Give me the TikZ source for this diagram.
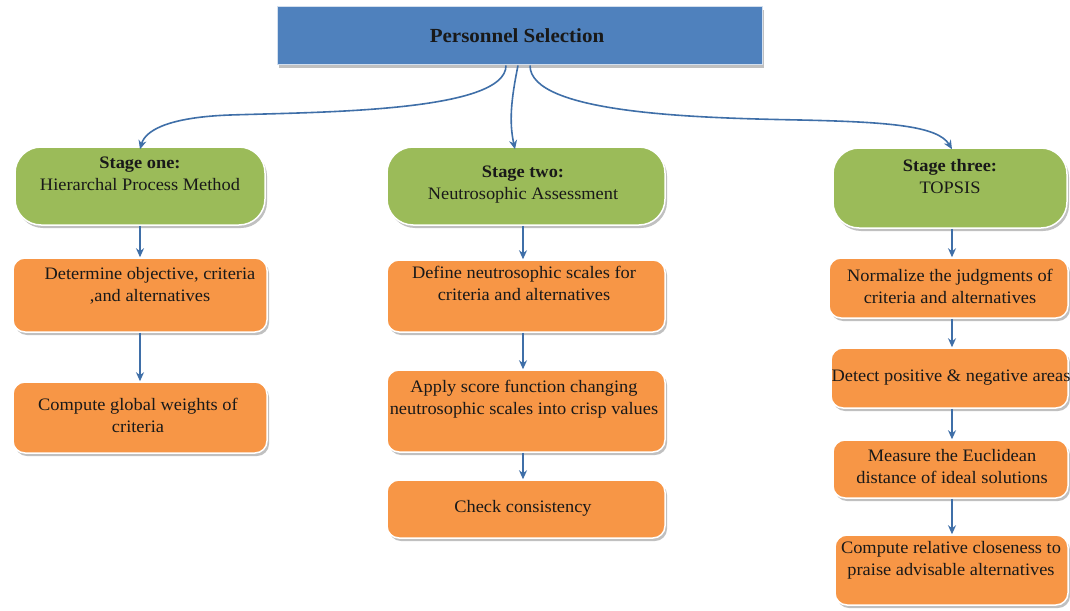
\documentclass[tikz,border=0pt]{standalone}
\usepackage{fontspec}
\setmainfont[FakeStretch=1.05]{Liberation Serif}
\usetikzlibrary{shadows,arrows.meta}
\definecolor{tblue}{HTML}{4F81BD}
\definecolor{tgreen}{HTML}{9BBB59}
\definecolor{torange}{HTML}{F79646}
\definecolor{lblue}{HTML}{3F6FA8}
\begin{document}
\begin{tikzpicture}[x=1pt,y=-1pt,
  shad/.style={drop shadow={shadow xshift=2pt,shadow yshift=-3pt,opacity=.35,fill=black!70}},
  titlebox/.style={rectangle,fill=tblue,draw=white!75!tblue,line width=1pt,shad,inner sep=0},
  stagebox/.style={rectangle,rounded corners=26pt,fill=tgreen,draw=white,line width=1.5pt,shad,inner sep=0},
  stepbox/.style={rectangle,rounded corners=12pt,fill=torange,draw=white,line width=1.5pt,shad,inner sep=0},
  txt/.style={align=center,inner sep=0,text=black!90,font=\fontsize{17.5}{22}\selectfont},
  ttl/.style={inner sep=0,text=black!90,font=\fontsize{20}{24}\selectfont\bfseries},
  arr/.style={draw=lblue,line width=1.6pt,-{Stealth[length=9pt,width=8pt]}},
]
\fill[white] (0,0) rectangle (1070,610);
\useasboundingbox (0,0) rectangle (1070,610);

% title
\node[titlebox,minimum width=485pt,minimum height=58pt] (top) at (519.5,36) {};
\node[ttl] (toptxt) at (517,36) {Personnel Selection};

% stage boxes
\node[stagebox,minimum width=250pt,minimum height=78pt] (s1) at (140,186) {};
\node[stagebox,minimum width=278pt,minimum height=78pt] (s2) at (526,186) {};
\node[stagebox,minimum width=234pt,minimum height=80pt] (s3) at (950,188) {};
\node[txt] (s1t) at (140,174) {\textbf{Stage one:}\\Hierarchal Process Method};
\node[txt] (s2t) at (523,185) {\textbf{Stage two:}\\Neutrosophic Assessment};
\node[txt] (s3t) at (950,177) {\textbf{Stage three:}\\TOPSIS};

% stage one steps
\node[stepbox,minimum width=254pt,minimum height=74pt] (a1) at (140,295) {};
\node[stepbox,minimum width=254pt,minimum height=71pt] (a2) at (140,417.5) {};
\node[txt] (a1t) at (150,286) {Determine objective, criteria\\,and alternatives};
\node[txt] (a2t) at (138,415) {Compute global weights of\\criteria};

% stage two steps
\node[stepbox,minimum width=278pt,minimum height=72pt] (b1) at (526,296) {};
\node[stepbox,minimum width=278pt,minimum height=82pt] (b2) at (526,411) {};
\node[stepbox,minimum width=278pt,minimum height=58pt] (b3) at (526,509) {};
\node[txt] (b1t) at (524,283.5) {Define neutrosophic scales for\\criteria and alternatives};
\node[txt] (b2t) at (524,399) {Apply score function changing\\neutrosophic scales into crisp values};
\node[txt] (b3t) at (523,508) {Check consistency};

% stage three steps
\node[stepbox,minimum width=239pt,minimum height=60pt] (c1) at (948.5,288) {};
\node[stepbox,minimum width=237pt,minimum height=60pt] (c2) at (949.5,378) {};
\node[stepbox,minimum width=235pt,minimum height=58pt] (c3) at (950.5,469) {};
\node[stepbox,minimum width=233pt,minimum height=70pt] (c4) at (951.5,570) {};
\node[txt] (c1t) at (950,286) {Normalize the judgments of\\criteria and alternatives};
\node[txt] (c2t) at (951,378) {Detect positive \& negative areas};
\node[txt] (c3t) at (952,467) {Measure the Euclidean\\distance of ideal solutions};
\node[txt] (c4t) at (951,560) {Compute relative closeness to\\praise advisable alternatives};

% vertical arrows
\coordinate (ax3) at ([xshift=2pt]s3.south);
\draw[arr] (s1.south) -- (a1.north);
\draw[arr] (a1.south) -- (a2.north);
\draw[arr] ([xshift=-3pt]s2.south) -- ([xshift=-3pt]b1.north);
\draw[arr] ([xshift=-3pt]b1.south) -- ([xshift=-3pt]b2.north);
\draw[arr] ([xshift=-3pt]b2.south) -- ([xshift=-3pt]b3.north);
\draw[arr] (ax3) -- (c1.north -| ax3);
\draw[arr] (c1.south -| ax3) -- (c2.north -| ax3);
\draw[arr] (c2.south -| ax3) -- (c3.north -| ax3);
\draw[arr] (c3.south -| ax3) -- (c4.north -| ax3);

% curved connectors from title
\draw[arr] ([xshift=-13.5pt]top.south) .. controls (506,112) and (320,112) .. (230,115)
  .. controls (175,117) and (146,128) .. ([yshift=-3pt]s1.north);
\draw[arr] ([xshift=-1.5pt]top.south) .. controls (511,100) and (509,122) .. ([xshift=-11pt,yshift=-3pt]s2.north);
\draw[arr] ([xshift=10.5pt]top.south) .. controls (530,114) and (700,118) .. (800,120)
  .. controls (890,122) and (938,126) .. ([xshift=2pt,yshift=-2pt]s3.north);
\end{tikzpicture}
\end{document}
